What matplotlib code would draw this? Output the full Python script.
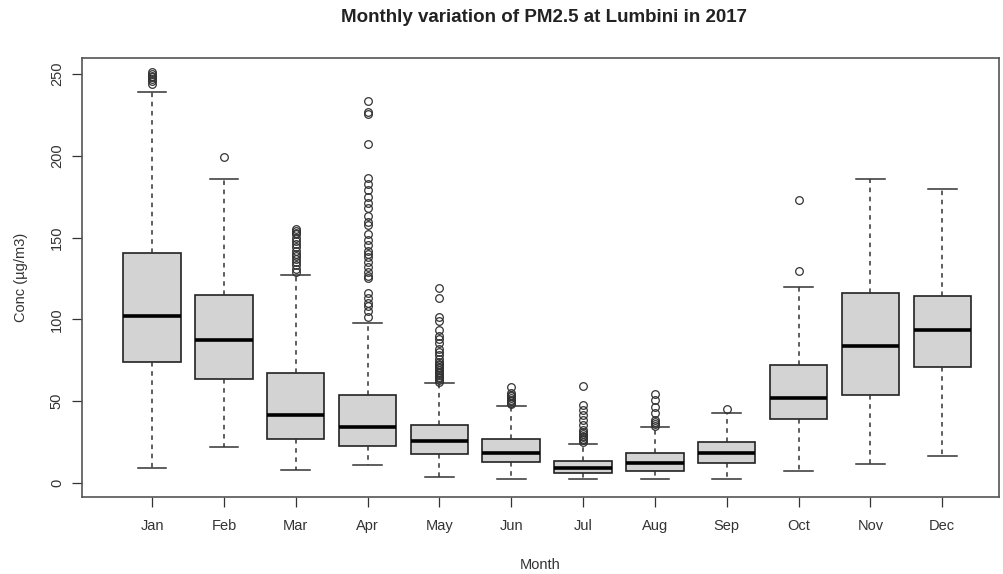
import numpy as np
import matplotlib
matplotlib.use("Agg")
import matplotlib.pyplot as plt

plt.rcParams['font.family'] = ['Liberation Sans', 'DejaVu Sans']

months = ["Jan", "Feb", "Mar", "Apr", "May", "Jun", "Jul", "Aug", "Sep", "Oct", "Nov", "Dec"]
q1 = [74.2, 63.4, 26.8, 22.8, 17.7, 12.6, 5.9, 7.5, 12.0, 38.9, 53.8, 70.7]
med = [102.3, 87.4, 41.4, 34.0, 25.7, 18.5, 9.0, 12.0, 18.5, 51.8, 83.9, 93.5]
q3 = [140.8, 114.9, 67.2, 53.8, 35.5, 26.9, 13.4, 18.1, 24.9, 72.1, 116.0, 114.5]
whislo = [9.0, 21.8, 7.9, 10.8, 3.5, 2.2, 2.2, 2.2, 2.2, 7.3, 11.6, 16.5]
whishi = [238.8, 185.8, 127.1, 97.6, 61.3, 47.0, 23.8, 34.0, 42.6, 119.6, 185.8, 179.5]
fliers = [
    [244, 246, 247, 248, 249, 250, 251],
    [199.5],
    [129, 131, 133, 135, 137, 139, 140, 142, 144, 146, 148, 150, 152, 153, 154, 155.5],
    [101.7, 105, 108, 110, 113, 116, 125, 126.5, 129, 132, 135, 138, 140, 142, 145.5,
     148.5, 152, 157.7, 159.7, 163, 168, 171, 175, 179, 183, 186.6, 207, 225.6, 226.8, 233.7],
    [62, 63, 64, 65, 66, 67, 68, 69, 70, 71, 72, 73, 74, 76, 78, 80, 82, 85.6, 88, 90,
     93.5, 99, 101.7, 113, 119.4],
    [48, 49, 50, 51, 52, 53, 54, 55, 58.9],
    [25, 26, 27, 28, 29, 30, 31, 32.4, 35.5, 38.5, 41.6, 44.6, 47.7, 59.5],
    [35, 36, 37, 38.5, 42.6, 46.6, 50.7, 54.4],
    [45],
    [129.8, 173],
    [],
    [],
]

stats = []
for i in range(len(months)):
    stats.append(dict(label=months[i], q1=q1[i], med=med[i], q3=q3[i],
                      whislo=whislo[i], whishi=whishi[i], fliers=np.array(fliers[i])))

fig = plt.figure(figsize=(10.04, 5.74), dpi=100)
ax = fig.add_axes([82/1004, 1-497/574, (999-82)/1004, (497-58)/574])

ax.bxp(stats, positions=np.arange(1, 13), widths=0.8, patch_artist=True,
       boxprops=dict(facecolor="#d3d3d3", edgecolor="#222222", linewidth=1.2),
       medianprops=dict(color="black", linewidth=2.6, solid_capstyle="butt"),
       whiskerprops=dict(color="#333333", linewidth=1.1, linestyle=(0, (3, 3))),
       capprops=dict(color="#333333", linewidth=1.1),
       flierprops=dict(marker="o", markerfacecolor="none", markeredgecolor="#333333",
                       markersize=5.5, markeredgewidth=0.9),
       capwidths=0.4)

ax.set_xlim(0.025, 12.79)
ax.set_ylim(-8.6, 259.8)
ax.set_yticks([0, 50, 100, 150, 200, 250])
ax.set_xticks(np.arange(1, 13))
ax.set_xticklabels(months)
for lab in ax.get_yticklabels():
    lab.set_rotation(90)
    lab.set_va("center")
ax.tick_params(axis="both", direction="out", length=7, width=0.9, color="#333333",
               labelsize=10.5, labelcolor="#333333")
ax.tick_params(axis="x", pad=9)
ax.tick_params(axis="y", pad=6)
for sp in ax.spines.values():
    sp.set_color("#555555")
    sp.set_linewidth(1.2)

ax.set_xlabel("Month", fontsize=10.5, color="#333333", labelpad=18)
ax.set_ylabel("Conc (µg/m3)", fontsize=10.5, color="#333333", labelpad=16)
fig.text(0.542, 1-18/574, "Monthly variation of PM2.5 at Lumbini in 2017",
         ha="center", va="center", fontsize=13.5, fontweight="bold", color="#222222")

fig.savefig("out.png", dpi=100)
